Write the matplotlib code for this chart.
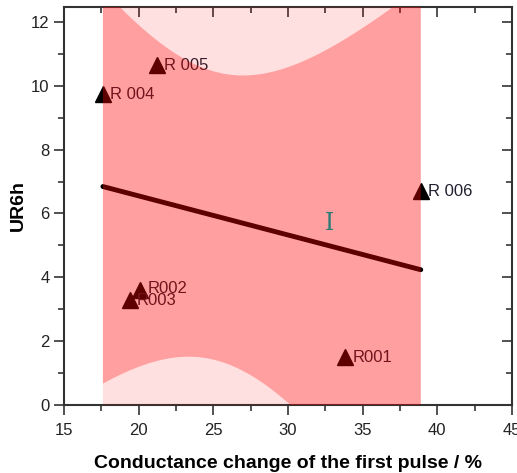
import numpy as np
import matplotlib.pyplot as plt
from matplotlib.ticker import MultipleLocator

plt.rcParams['font.family'] = ['Liberation Sans', 'DejaVu Sans']

# samples: conductance change of first pulse (%) vs UR6h
names = ['R001', 'R002', 'R003', 'R 004', 'R 005', 'R 006']
cond = [33.8, 20.1, 19.4, 17.6, 21.2, 38.9]
ur6h = [1.5, 3.6, 3.3, 9.75, 10.66, 6.7]
label_offsets = [(6, -6), (5, -4), (5, -6), (5, -6), (5, -6), (5, -6)]

x = np.array(cond)
y = np.array(ur6h)
n = len(x)

# linear fit with 95% confidence and prediction bands
slope, icpt = np.polyfit(x, y, 1)
resid = y - (slope * x + icpt)
s = np.sqrt(np.sum(resid ** 2) / (n - 2))
t95 = 2.776  # t(0.975, 4)
sxx = np.sum((x - x.mean()) ** 2)

xs = np.linspace(x.min(), x.max(), 300)
yfit = slope * xs + icpt
conf = t95 * s * np.sqrt(1 / n + (xs - x.mean()) ** 2 / sxx)
pred = t95 * s * np.sqrt(1 + 1 / n + (xs - x.mean()) ** 2 / sxx)

fig = plt.figure(figsize=(5.17, 4.73), dpi=100)
ax = fig.add_axes([0.124, 0.144, 0.866, 0.841])

# points, labels and fit line sit under the translucent bands
ax.plot(x, y, '^', color='black', markersize=11, zorder=1)
for nm, xi, yi, off in zip(names, cond, ur6h, label_offsets):
    ax.annotate(nm, (xi, yi), xytext=off, textcoords='offset points',
                fontsize=12, color='#202030', va='bottom', zorder=1)
ax.plot(xs, yfit, color='black', lw=3.5, solid_capstyle='round', zorder=1)

ax.fill_between(xs, yfit - pred, yfit + pred, color='red', alpha=0.12, lw=0, zorder=3)
ax.fill_between(xs, yfit - conf, yfit + conf, color='red', alpha=0.286, lw=0, zorder=3)

ax.text(32.75, 5.7, 'I', color='#2a7a78', fontsize=17, family='DejaVu Serif',
        fontweight='light', ha='center', va='center', zorder=4)

ax.set_xlim(15, 45)
ax.set_ylim(0, 12.47)
ax.xaxis.set_major_locator(MultipleLocator(5))
ax.xaxis.set_minor_locator(MultipleLocator(2.5))
ax.yaxis.set_major_locator(MultipleLocator(2))
ax.yaxis.set_minor_locator(MultipleLocator(1))

for sp in ax.spines.values():
    sp.set_color('#333333')
    sp.set_linewidth(1.5)

ax.tick_params(which='both', top=True, right=True, width=1.2, color='#333333',
               labelsize=12, labelcolor='#222222', direction='out')
ax.tick_params(which='major', length=7)
ax.tick_params(which='minor', length=4)
ax.tick_params(axis='x', pad=6)
# inward ticks on the top and right frame
for t in ax.xaxis.get_major_ticks() + ax.xaxis.get_minor_ticks():
    t.tick2line.set_marker(3)
for t in ax.yaxis.get_major_ticks() + ax.yaxis.get_minor_ticks():
    t.tick2line.set_marker(0)

ax.set_xlabel('Conductance change of the first pulse / %', fontsize=14,
              fontweight='bold', labelpad=12)
ax.set_ylabel('UR6h', fontsize=14, fontweight='bold', labelpad=3)

fig.savefig('out.png', dpi=100)
